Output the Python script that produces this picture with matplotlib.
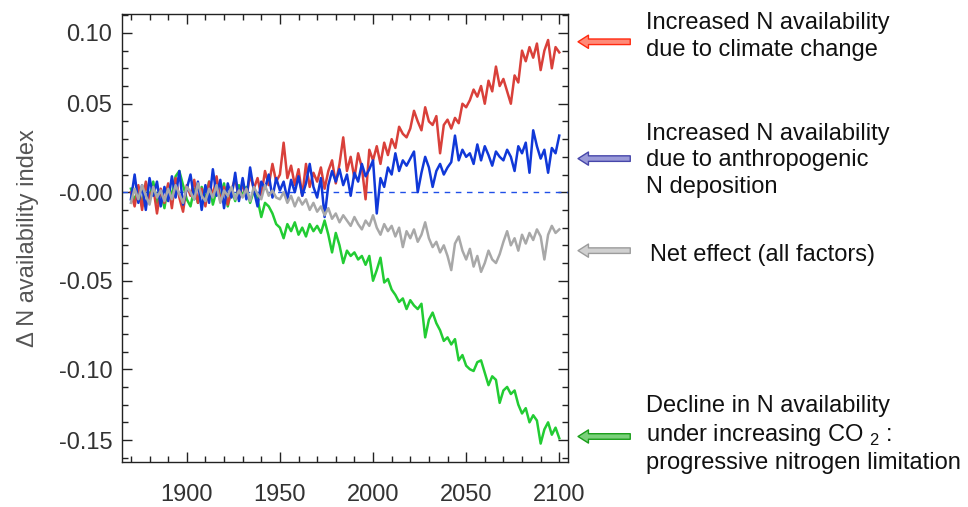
import numpy as np
import matplotlib.pyplot as plt
import matplotlib.transforms as mtransforms
from matplotlib.ticker import MultipleLocator, FixedLocator

plt.rcParams['font.family'] = ['Liberation Sans', 'DejaVu Sans']
plt.rcParams['mathtext.fontset'] = 'custom'
plt.rcParams['mathtext.rm'] = 'Liberation Sans'

# every 2 years, 1870 - 2100
years = np.arange(1870, 2101, 2)

climate = [0.000, -0.008, 0.004, -0.010, 0.006, -0.004, 0.003, -0.012, 0.002, -0.006,
           0.005, -0.009, 0.008, -0.003, -0.011, 0.004, -0.002, 0.007, -0.006, 0.002,
           -0.008, 0.006, -0.002, 0.009, -0.005, 0.003, -0.007, 0.001, 0.008, -0.004,
           0.005, -0.003, 0.010, 0.002, 0.008, -0.002, 0.012, 0.004, 0.016, 0.006,
           0.010, 0.028, 0.008, 0.015, 0.004, 0.013, -0.002, 0.016, 0.003, 0.011,
           0.006, 0.014, 0.002, 0.012, 0.018, 0.005, 0.016, 0.031, 0.012, 0.020,
           0.008, 0.022, 0.014, -0.004, 0.024, 0.018, 0.026, 0.016, 0.028, 0.021,
           0.030, 0.025, 0.037, 0.033, 0.031, 0.036, 0.046, 0.040, 0.035, 0.048,
           0.040, 0.038, 0.043, 0.022, 0.038, 0.041, 0.036, 0.042, 0.039, 0.050,
           0.048, 0.052, 0.058, 0.054, 0.060, 0.050, 0.063, 0.057, 0.071, 0.060,
           0.064, 0.057, 0.050, 0.066, 0.062, 0.080, 0.074, 0.082, 0.076, 0.084,
           0.069, 0.080, 0.086, 0.070, 0.082, 0.079]

deposition = [-0.004, 0.010, -0.006, 0.004, -0.010, 0.008, -0.002, 0.006, -0.008, 0.003,
              -0.005, 0.009, -0.003, 0.012, -0.007, 0.002, 0.010, -0.004, 0.006, -0.010,
              0.004, -0.006, 0.013, -0.002, 0.007, -0.009, 0.005, -0.003, 0.011, -0.005,
              0.008, -0.004, 0.014, 0.001, -0.008, 0.006, 0.002, 0.010, -0.003, 0.008,
              0.001, 0.006, -0.004, 0.007, 0.000, 0.009, -0.002, 0.005, 0.016, 0.003,
              -0.003, 0.008, -0.014, 0.004, 0.012, 0.006, 0.013, 0.004, 0.010, -0.002,
              0.011, 0.006, 0.016, 0.009, 0.013, 0.018, -0.012, 0.008, 0.003, 0.014,
              0.010, 0.022, 0.012, 0.018, 0.015, 0.019, 0.023, 0.000, 0.011, 0.020,
              0.014, 0.003, 0.012, 0.016, 0.010, 0.014, 0.017, 0.032, 0.018, 0.024,
              0.020, 0.022, 0.016, 0.027, 0.018, 0.026, 0.021, 0.015, 0.023, 0.020,
              0.018, 0.024, 0.020, 0.012, 0.026, 0.022, 0.028, 0.011, 0.035, 0.026,
              0.019, 0.024, 0.011, 0.025, 0.022, 0.032]

net = [-0.006, 0.002, -0.004, 0.004, -0.002, -0.007, 0.003, -0.003, 0.001, -0.005,
       0.002, -0.004, 0.004, -0.001, -0.006, 0.003, 0.000, -0.004, 0.005, -0.002,
       -0.005, 0.002, -0.003, 0.004, -0.006, 0.001, -0.002, 0.003, -0.004, 0.001,
       -0.003, 0.002, -0.005, 0.003, -0.001, -0.004, 0.004, -0.002, 0.001, -0.003,
       -0.004, 0.000, -0.006, -0.002, -0.008, -0.003, -0.007, -0.004, -0.010, -0.006,
       -0.011, -0.008, -0.013, -0.009, -0.015, -0.012, -0.017, -0.013, -0.016, -0.019,
       -0.014, -0.018, -0.021, -0.016, -0.019, -0.013, -0.020, -0.024, -0.018, -0.022,
       -0.019, -0.025, -0.020, -0.031, -0.022, -0.026, -0.021, -0.028, -0.024, -0.017,
       -0.026, -0.031, -0.028, -0.034, -0.030, -0.036, -0.044, -0.029, -0.025, -0.033,
       -0.038, -0.032, -0.042, -0.036, -0.045, -0.040, -0.033, -0.038, -0.040, -0.035,
       -0.028, -0.022, -0.030, -0.026, -0.033, -0.024, -0.029, -0.023, -0.027, -0.021,
       -0.025, -0.038, -0.024, -0.019, -0.023, -0.021]

co2 = [0.002, -0.005, 0.003, -0.008, 0.005, -0.003, 0.006, -0.006, 0.001, -0.009,
       0.004, -0.002, 0.009, 0.012, 0.004, -0.004, -0.008, 0.002, -0.006, 0.003,
       -0.004, 0.006, -0.007, 0.001, -0.003, 0.005, -0.008, 0.002, -0.005, 0.004,
       -0.002, 0.003, -0.006, 0.001, -0.004, -0.014, -0.006, -0.008, -0.012, -0.018,
       -0.020, -0.026, -0.018, -0.022, -0.017, -0.024, -0.020, -0.025, -0.018, -0.022,
       -0.019, -0.023, -0.016, -0.024, -0.034, -0.023, -0.030, -0.040, -0.033, -0.036,
       -0.034, -0.038, -0.036, -0.041, -0.036, -0.050, -0.044, -0.037, -0.051, -0.049,
       -0.055, -0.058, -0.062, -0.060, -0.066, -0.061, -0.064, -0.066, -0.063, -0.082,
       -0.072, -0.068, -0.074, -0.078, -0.084, -0.082, -0.086, -0.083, -0.095, -0.092,
       -0.098, -0.100, -0.101, -0.096, -0.095, -0.102, -0.109, -0.104, -0.106, -0.119,
       -0.112, -0.110, -0.114, -0.112, -0.120, -0.125, -0.122, -0.130, -0.126, -0.129,
       -0.142, -0.134, -0.130, -0.137, -0.133, -0.139]

# tick marks sit where the original put them (labels are as printed)
ytick_pos = [0.09, 0.05, 0.0, -0.05, -0.10, -0.14]
ytick_lab = ['0.10', '0.05', '-0.00', '-0.05', '-0.10', '-0.15']

notes = ['Increased N availability\ndue to climate change',
         'Increased N availability\ndue to anthropogenic\nN deposition',
         'Net effect (all factors)',
         'Decline in N availability\nunder increasing CO $_{2}$ :\nprogressive nitrogen limitation']
note_x = [1.175, 1.175, 1.184, 1.175]
note_y = [0.088, 0.018, -0.0355, -0.137]
arrow_y = [0.085, 0.019, -0.033, -0.138]
arrow_ec = ['#ff2a10', '#4646aa', '#9c9c9c', '#1a9e1a']
arrow_fc = ['#ff8a78', '#9a9ad8', '#d0d0d0', '#7ad07a']

fig = plt.figure(figsize=(9.68, 5.07), dpi=100)
ax = fig.add_axes([0.126, 0.0888, 0.461, 0.8836])

ax.axhline(0, color='#1f4fe8', lw=1.0, dashes=(4, 4))
ax.plot(years, co2, color='#22cc33', lw=1.8)
ax.plot(years, net, color='#a8a8a8', lw=1.8, zorder=3)
ax.plot(years, climate, color='#d9403a', lw=1.8)
ax.plot(years, deposition, color='#1038d8', lw=1.8)

ax.set_xlim(1865.2, 2104.8)
ax.set_ylim(-0.1524, 0.1007)
ax.xaxis.set_major_locator(FixedLocator([1900, 1950, 2000, 2050, 2100]))
ax.xaxis.set_minor_locator(MultipleLocator(10))
ax.yaxis.set_major_locator(FixedLocator(ytick_pos))
ax.set_yticklabels(ytick_lab)
ax.yaxis.set_minor_locator(MultipleLocator(0.01))
ax.tick_params(which='both', direction='in', top=True, right=True, width=1.0,
               colors='#222222', labelcolor='#333333', labelsize=17)
ax.tick_params(which='major', length=7)
ax.tick_params(which='minor', length=4)
ax.tick_params(axis='x', pad=16)
ax.tick_params(axis='y', pad=7)
for s in ax.spines.values():
    s.set_linewidth(1.0)
    s.set_color('#222222')

ax.set_ylabel('Δ N availability index', fontsize=17, color='#555555', labelpad=14)

trans = mtransforms.blended_transform_factory(ax.transAxes, ax.transData)
for txt, tx, ty, ay, ec, fc in zip(notes, note_x, note_y, arrow_y, arrow_ec, arrow_fc):
    ax.annotate('', xy=(1.022, ay), xytext=(1.139, ay), xycoords=trans,
                textcoords=trans, annotation_clip=False,
                arrowprops=dict(arrowstyle='simple,head_length=0.75,head_width=0.95,tail_width=0.4',
                                fc=fc, ec=ec, lw=1.0, mutation_scale=10,
                                shrinkA=0, shrinkB=0))
    ax.text(tx, ty, txt, transform=trans, fontsize=17, color='#111111',
            va='center', ha='left', linespacing=1.25, clip_on=False)

fig.savefig('out.png', dpi=100)
